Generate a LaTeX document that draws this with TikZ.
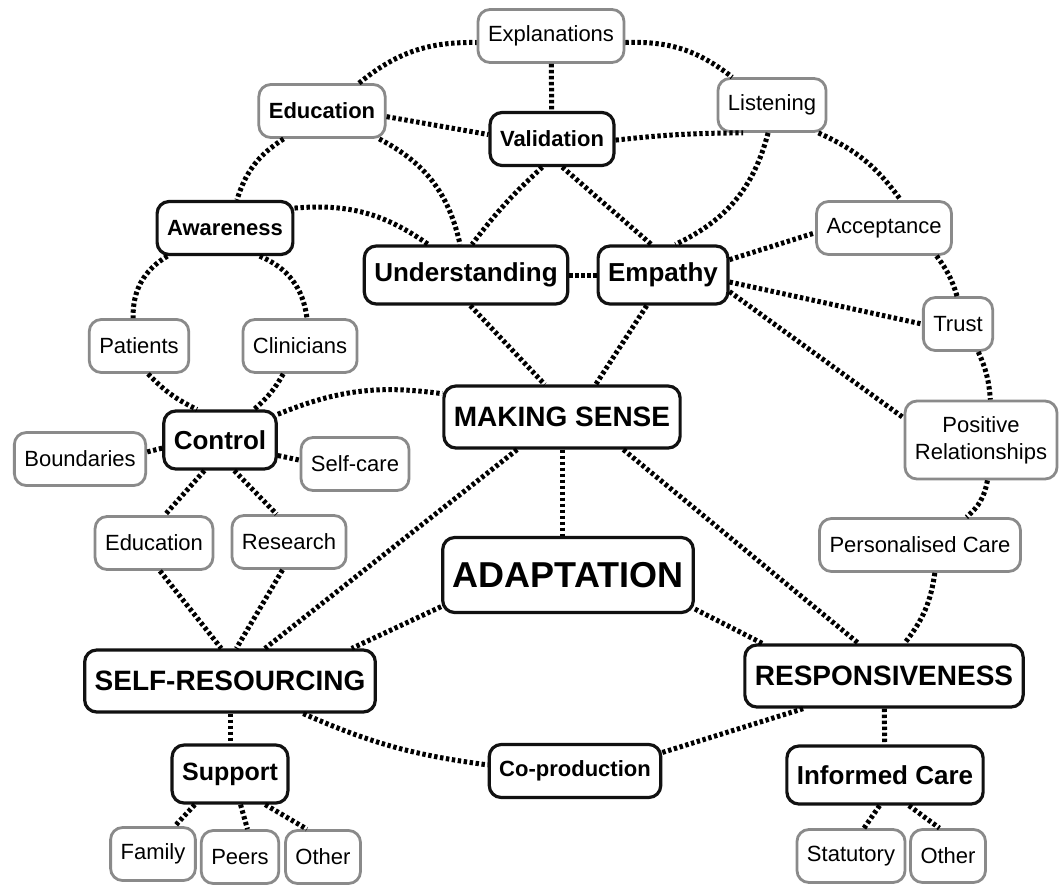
\documentclass[tikz,border=0pt]{standalone}
\usepackage{fontspec}
\setmainfont{Liberation Sans}
\usepackage{tikz}
\definecolor{BoxGray}{HTML}{8A8A8A}
\definecolor{InkBlack}{HTML}{111111}

\begin{document}
\begin{tikzpicture}[x=0.5pt, y=-0.5pt, every node/.style={font=\fontsize{11}{13.5}\selectfont}]
  \tikzstyle{leaf}=[rectangle, rounded corners=6pt, draw=BoxGray, line width=1.4pt, fill=white,
  minimum height=26.5pt, inner xsep=5pt, align=center]
  \tikzstyle{theme}=[leaf, draw=InkBlack, line width=1.6pt, font=\fontsize{11}{13.5}\selectfont\bfseries]
  \tikzstyle{facet}=[theme, minimum height=29pt, font=\fontsize{13}{15}\selectfont\bfseries]
  \tikzstyle{pillar}=[theme, minimum height=31pt, font=\fontsize{14}{16}\selectfont\bfseries]
  \tikzstyle{link}=[line width=2.5pt, dash pattern=on 1.7pt off 1.3pt]
  \useasboundingbox (0,0) rectangle (1059,884);
  \node[leaf] (explanations) at (551,36) {Explanations};
  \node[leaf, font=\fontsize{11}{13.5}\selectfont\bfseries] (education) at (322,111) {Education};
  \node[theme] (validation) at (552,139) {Validation};
  \node[leaf] (listening) at (772,105) {Listening};
  \node[theme] (awareness) at (225,228) {Awareness};
  \node[facet] (understanding) at (466,275) {Understanding};
  \node[facet] (empathy) at (663,275) {Empathy};
  \node[leaf] (acceptance) at (884,228) {Acceptance};
  \node[leaf] (trust) at (958,324) {Trust};
  \node[leaf] (patients) at (139,346) {Patients};
  \node[leaf] (clinicians) at (300,346) {Clinicians};
  \node[pillar] (sense) at (562,417) {MAKING SENSE};
  \node[facet] (control) at (220,440) {Control};
  \node[leaf] (boundaries) at (80,459) {Boundaries};
  \node[leaf] (selfcare) at (355,464) {Self-care};
  \node[leaf, minimum height=39pt] (relationships) at (981,440) {Positive\\Relationships};
  \node[leaf] (learning) at (154,543) {Education};
  \node[leaf] (research) at (289,542) {Research};
  \node[leaf] (personalised) at (920,545) {Personalised Care};
  \node[pillar, minimum height=37.5pt, font=\fontsize{18}{20}\selectfont\bfseries] (adaptation) at (568,575) {ADAPTATION};
  \node[pillar] (selfres) at (230,681) {SELF-RESOURCING};
  \node[pillar] (responsive) at (884,676) {RESPONSIVENESS};
  \node[facet, font=\fontsize{12.5}{15}\selectfont\bfseries] (support) at (230,774) {Support};
  \node[theme] (coproduction) at (575,771) {Co-production};
  \node[facet] (informed) at (885,775) {Informed Care};
  \node[leaf] (family) at (153,854) {Family};
  \node[leaf] (peers) at (240,857) {Peers};
  \node[leaf] (othersupport) at (323,857) {Other};
  \node[leaf] (statutory) at (851,856) {Statutory};
  \node[leaf] (othercare) at (948,856) {Other};
  \draw[link] (education.37) to[bend left=20] (explanations.185);
  \draw[link] (explanations.355) to[bend left=20] (listening.145);
  \draw[link] (listening.329) to[bend left=15] (acceptance.59);
  \draw[link] (acceptance.332) to[bend left=10] (trust.92);
  \draw[link] (trust.306) to[bend left=10] (relationships.77);
  \draw[link] (relationships.279) to[bend left=20] (personalised.31);
  \draw[link] (personalised.298) to[bend left=15] (responsive.58);
  \draw[link] (education.216) to[bend right=20] (awareness.67);
  \draw[link] (awareness.206) to[bend right=30] (patients.102);
  \draw[link] (awareness.321) to[bend left=30] (clinicians.76);
  \draw[link] (patients.288) to[bend right=10] (control.127);
  \draw[link] (clinicians.239) to[bend left=10] (control.42);
  \draw[link] (control.24) to[bend left=15] (sense.169);
  \draw[link] (control.188) -- (boundaries.6);
  \draw[link] (control.345) -- (selfcare.176);
  \draw[link] (control.243) -- (learning.69);
  \draw[link] (control.295) -- (research.114);
  \draw[link] (learning.282) -- (selfres.105);
  \draw[link] (research.257) -- (selfres.79);
  \draw[link] (sense.216) -- (selfres.43);
  \draw[link] (adaptation.194) -- (selfres.15);
  \draw[link] (sense.south) -- (sense.south |- adaptation.north);
  \draw[link] (sense.332) -- (responsive.128);
  \draw[link] (adaptation.345) -- (responsive.165);
  \draw[link] (selfres) -- (support);
  \draw[link] (selfres.336) to[bend right=8] (coproduction.176);
  \draw[link] (coproduction.12) -- (responsive.202);
  \draw[link] (responsive) -- (informed);
  \draw[link] (support.221) -- (family.52);
  \draw[link] (support.289) -- (peers.75);
  \draw[link] (support.319) -- (othersupport.120);
  \draw[link] (informed.260) -- (statutory.65);
  \draw[link] (informed.308) -- (othercare.107);
  \draw[link] (awareness.16) to[bend left=20] (understanding.141);
  \draw[link] (education.355) -- (validation.176);
  \draw[link] (education.334) to[bend left=25] (understanding.101);
  \draw[link] (validation.251) to[bend right=5] (understanding.79);
  \draw[link] (validation.290) -- (empathy.111);
  \draw[link] (validation.359) to[bend left=3] (listening.224);
  \draw[link] (listening.262) to[bend left=25] (empathy.68);
  \draw[link] (understanding) -- (empathy);
  \draw[link] (empathy.13) -- (acceptance.184);
  \draw[link] (empathy.354) -- (trust.180);
  \draw[link] (empathy.346) -- (relationships.164);
  \draw[link] (understanding.278) -- (sense.118);
  \draw[link] (empathy.242) -- (sense.44);
  \draw[link] (explanations) -- (validation);
\end{tikzpicture}
\end{document}
